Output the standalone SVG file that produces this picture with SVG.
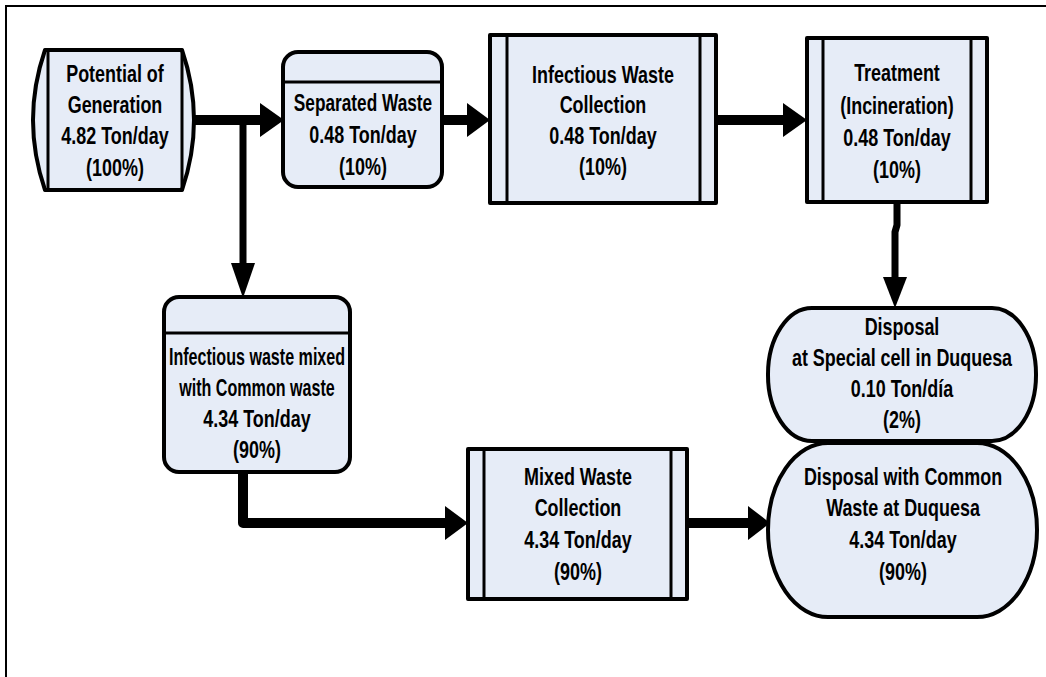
<svg xmlns="http://www.w3.org/2000/svg" width="1046" height="677" viewBox="0 0 1046 677">
  <defs>
    <style>
      .shape { fill: #e6ecf7; stroke: #000; stroke-width: 4; stroke-linejoin: round; }
      .bar { fill: none; stroke: #000; stroke-width: 3; }
      .lbl { font-family: "Liberation Sans", Arial, sans-serif; font-weight: bold; font-size: 23px; fill: #000; text-anchor: middle; }
      .flow { fill: none; stroke: #000; stroke-width: 10; stroke-linecap: round; stroke-linejoin: round; }
      .flow-thin { fill: none; stroke: #000; stroke-width: 7; stroke-linecap: round; stroke-linejoin: round; }
      .head { fill: #000; }
    </style>
  </defs>

  <rect width="1046" height="677" fill="#fff"/>
  <!-- outer frame (top and left edges) -->
  <path d="M6,677 L6,6 L1046,6" fill="none" stroke="#000" stroke-width="2"/>

  <g id="connectors">
    <!-- generation -> separated waste -->
    <line class="flow" x1="194" y1="120" x2="262" y2="120"/>
    <polygon class="head" points="260,103 284,120 260,137"/>
    <!-- branch down to mixed waste -->
    <line class="flow-thin" x1="243" y1="120" x2="243" y2="265"/>
    <polygon class="head" points="231,263 243,298 255,263"/>
    <!-- separated -> infectious waste collection -->
    <line class="flow" x1="442" y1="120" x2="469" y2="120"/>
    <polygon class="head" points="467,103 490,120 467,137"/>
    <!-- infectious collection -> treatment -->
    <line class="flow" x1="716" y1="120" x2="785" y2="120"/>
    <polygon class="head" points="783,103 807,120 783,137"/>
    <!-- treatment -> special cell disposal -->
    <path class="flow-thin" d="M897,202 L897,225 L895,232 L895,279"/>
    <polygon class="head" points="883,277 895,308 907,277"/>
    <!-- mixed waste -> mixed collection -->
    <path class="flow" d="M243,472 L243,523 L447,523"/>
    <polygon class="head" points="445,506 468,523 445,540"/>
    <!-- mixed collection -> common disposal -->
    <line class="flow" x1="687" y1="523" x2="750" y2="523"/>
    <polygon class="head" points="748,506 770,523 748,540"/>
  </g>

  <g id="potential-generation">
    <path class="shape" d="M45,50 L182,50 Q206,120 182,190 L45,190 Q21,120 45,50 Z"/>
    <line class="bar" x1="48" y1="50" x2="48" y2="190"/>
    <line class="bar" x1="182" y1="50" x2="182" y2="190"/>
    <g transform="translate(115,0) scale(0.78,1)">
      <text class="lbl" x="0" y="82">Potential of</text>
      <text class="lbl" x="0" y="113">Generation</text>
      <text class="lbl" x="0" y="144">4.82 Ton/day</text>
      <text class="lbl" x="0" y="176">(100%)</text>
    </g>
  </g>

  <g id="separated-waste">
    <rect class="shape" x="283" y="52" width="159" height="135" rx="15"/>
    <line class="bar" x1="283" y1="82" x2="442" y2="82" stroke-width="4"/>
    <g transform="translate(363,0) scale(0.75,1)">
      <text class="lbl" x="0" y="111">Separated Waste</text>
    </g>
    <g transform="translate(363,0) scale(0.78,1)">
      <text class="lbl" x="0" y="143">0.48 Ton/day</text>
      <text class="lbl" x="0" y="175">(10%)</text>
    </g>
  </g>

  <g id="infectious-collection">
    <rect class="shape" x="490" y="35" width="226" height="168"/>
    <line class="bar" x1="507" y1="35" x2="507" y2="203"/>
    <line class="bar" x1="700" y1="35" x2="700" y2="203"/>
    <g transform="translate(603,0) scale(0.78,1)">
      <text class="lbl" x="0" y="83">Infectious Waste</text>
      <text class="lbl" x="0" y="113">Collection</text>
      <text class="lbl" x="0" y="144">0.48 Ton/day</text>
      <text class="lbl" x="0" y="175">(10%)</text>
    </g>
  </g>

  <g id="treatment">
    <rect class="shape" x="807" y="38" width="180" height="164"/>
    <line class="bar" x1="823" y1="38" x2="823" y2="202"/>
    <line class="bar" x1="971" y1="38" x2="971" y2="202"/>
    <g transform="translate(897,0) scale(0.78,1)">
      <text class="lbl" x="0" y="81">Treatment</text>
      <text class="lbl" x="0" y="114">(Incineration)</text>
      <text class="lbl" x="0" y="146">0.48 Ton/day</text>
      <text class="lbl" x="0" y="178">(10%)</text>
    </g>
  </g>

  <g id="mixed-waste">
    <rect class="shape" x="164" y="297" width="186" height="175" rx="15"/>
    <line class="bar" x1="164" y1="333" x2="350" y2="333" stroke-width="4"/>
    <g transform="translate(257,0) scale(0.7,1)">
      <text class="lbl" x="0" y="365">Infectious waste mixed</text>
      <text class="lbl" x="0" y="396">with Common waste</text>
    </g>
    <g transform="translate(257,0) scale(0.78,1)">
      <text class="lbl" x="0" y="427">4.34 Ton/day</text>
      <text class="lbl" x="0" y="458">(90%)</text>
    </g>
  </g>

  <g id="mixed-collection">
    <rect class="shape" x="468" y="449" width="219" height="150"/>
    <line class="bar" x1="484" y1="449" x2="484" y2="599"/>
    <line class="bar" x1="671" y1="449" x2="671" y2="599"/>
    <g transform="translate(578,0) scale(0.78,1)">
      <text class="lbl" x="0" y="485">Mixed Waste</text>
      <text class="lbl" x="0" y="516">Collection</text>
      <text class="lbl" x="0" y="548">4.34 Ton/day</text>
      <text class="lbl" x="0" y="580">(90%)</text>
    </g>
  </g>

  <g id="disposal-common">
    <path class="shape" d="M828,443 L977,443 A60,87 0 0 1 1037,530 A60,87 0 0 1 977,617 L828,617 A60,87 0 0 1 768,530 A60,87 0 0 1 828,443 Z"/>
    <g transform="translate(903,0) scale(0.78,1)">
      <text class="lbl" x="0" y="485">Disposal with Common</text>
      <text class="lbl" x="0" y="516">Waste at Duquesa</text>
      <text class="lbl" x="0" y="548">4.34 Ton/day</text>
      <text class="lbl" x="0" y="580">(90%)</text>
    </g>
  </g>

  <g id="disposal-special">
    <path class="shape" d="M812,308 L992,308 A44,66 0 0 1 1036,374 A44,66 0 0 1 992,441 L812,441 A44,66 0 0 1 768,374 A44,66 0 0 1 812,308 Z"/>
    <g transform="translate(902,0) scale(0.78,1)">
      <text class="lbl" x="0" y="335">Disposal</text>
      <text class="lbl" x="0" y="366">at Special cell in Duquesa</text>
      <text class="lbl" x="0" y="397">0.10 Ton/día</text>
      <text class="lbl" x="0" y="428">(2%)</text>
    </g>
  </g>
</svg>
